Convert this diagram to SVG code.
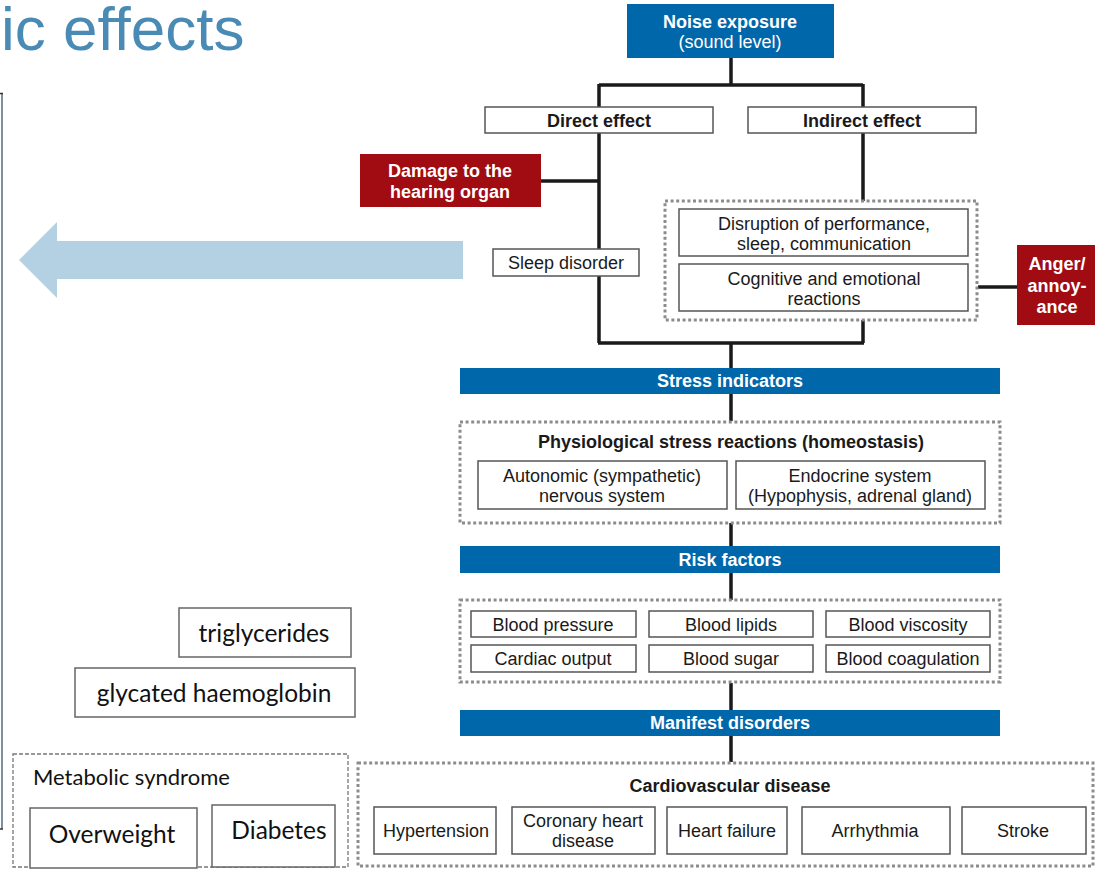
<svg xmlns="http://www.w3.org/2000/svg" width="1095" height="869" viewBox="0 0 1095 869">
<style>
.t{font-family:"Liberation Sans",Arial,sans-serif;font-size:18px;fill:#1a1a1a;text-anchor:middle}
.b{font-weight:bold}
.w{fill:#fff}
.c{font-family:Lato,"Open Sans","Liberation Sans",sans-serif;font-size:24.5px;fill:#111}
.box{fill:#fff;stroke:#555;stroke-width:1.5}
.cbox{fill:#fff;stroke:#666;stroke-width:1.5}
.blue{fill:#0067ab}
.red{fill:#a10c13}
.dot{fill:none;stroke:#8c8c8c;stroke-width:3;stroke-dasharray:3 2.6}
.ln{fill:none;stroke:#1a1a1a;stroke-width:3.5}
</style>
<rect width="1095" height="869" fill="#fff"/>
<text x="1" y="50" font-family="Liberation Sans, Arial, sans-serif" font-size="62" fill="#4a8bb5">ic effects</text>
<g id="left-frame">
<line x1="2" y1="93" x2="2" y2="829" stroke="#7d90a0" stroke-width="2"/>
<line x1="0" y1="93.5" x2="3" y2="93.5" stroke="#333" stroke-width="1.5"/>
<line x1="0" y1="829" x2="3" y2="829" stroke="#333" stroke-width="1.5"/>
</g>
<g id="big-arrow"><polygon points="19,260 57,222 57,241 463,241 463,279 57,279 57,298" fill="#b3d1e2"/></g>

<g id="connectors">
<path class="ln" d="M731 58V85M599 85H863M599 84V107M863 84V107"/>
<path class="ln" d="M599 133V249M599 276V343M541 181H599"/>
<path class="ln" d="M863 133V201M863 320V343M598 343H864M731 343V368"/>
<path class="ln" d="M978 287H1017"/>
<path class="ln" d="M731 394V421M731 523V546M731 573V600M731 683V710M731 736V762"/>
</g>

<g id="noise"><rect class="blue" x="627" y="4" width="207" height="54"/>
<text class="t b w" x="730" y="28">Noise exposure</text><text class="t w" x="730" y="48">(sound level)</text></g>
<g id="direct"><rect class="box" x="485" y="107" width="228" height="26"/><text class="t b" x="599" y="127">Direct effect</text></g>
<g id="indirect"><rect class="box" x="748" y="107" width="228" height="26"/><text class="t b" x="862" y="127">Indirect effect</text></g>
<g id="damage"><rect class="red" x="360" y="154" width="181" height="53"/>
<text class="t b w" x="450" y="177">Damage to the</text><text class="t b w" x="450" y="198">hearing organ</text></g>
<g id="sleep"><rect class="box" x="493" y="249" width="146" height="27"/><text class="t" x="566" y="269">Sleep disorder</text></g>
<g id="indirect-group"><rect class="dot" x="665" y="201" width="312" height="119"/>
<rect class="box" x="679" y="209" width="289" height="47"/>
<text class="t" x="824" y="230">Disruption of performance,</text><text class="t" x="824" y="250">sleep, communication</text>
<rect class="box" x="679" y="264" width="289" height="47"/>
<text class="t" x="824" y="285">Cognitive and emotional</text><text class="t" x="824" y="305">reactions</text></g>
<g id="anger"><rect class="red" x="1017" y="245" width="78" height="80"/>
<text class="t b w" x="1057" y="270">Anger/</text><text class="t b w" x="1057" y="292">annoy-</text><text class="t b w" x="1057" y="313">ance</text></g>

<g id="stress"><rect class="blue" x="460" y="368" width="540" height="26"/><text class="t b w" x="730" y="387">Stress indicators</text></g>
<g id="physio"><rect class="dot" x="460" y="422" width="540" height="101"/>
<text class="t b" x="731" y="448">Physiological stress reactions (homeostasis)</text>
<rect class="box" x="478" y="461" width="249" height="48"/>
<text class="t" x="602" y="482">Autonomic (sympathetic)</text><text class="t" x="602" y="502">nervous system</text>
<rect class="box" x="736" y="461" width="249" height="48"/>
<text class="t" x="860" y="482">Endocrine system</text><text class="t" x="860" y="502">(Hypophysis, adrenal gland)</text></g>
<g id="risk"><rect class="blue" x="460" y="546" width="540" height="27"/><text class="t b w" x="730" y="566">Risk factors</text></g>
<g id="risk-group"><rect class="dot" x="460" y="600" width="540" height="82"/>
<rect class="box" x="471" y="611" width="165" height="26"/><text class="t" x="553" y="631">Blood pressure</text>
<rect class="box" x="649" y="611" width="164" height="26"/><text class="t" x="731" y="631">Blood lipids</text>
<rect class="box" x="826" y="611" width="164" height="26"/><text class="t" x="908" y="631">Blood viscosity</text>
<rect class="box" x="471" y="645" width="165" height="27"/><text class="t" x="553" y="665">Cardiac output</text>
<rect class="box" x="649" y="645" width="164" height="27"/><text class="t" x="731" y="665">Blood sugar</text>
<rect class="box" x="826" y="645" width="164" height="27"/><text class="t" x="908" y="665">Blood coagulation</text></g>
<g id="manifest"><rect class="blue" x="460" y="710" width="540" height="26"/><text class="t b w" x="730" y="729">Manifest disorders</text></g>
<g id="cardio"><rect class="dot" x="358" y="763" width="735" height="103"/>
<text class="t b" x="730" y="792">Cardiovascular disease</text>
<rect class="box" x="374" y="807" width="122" height="47"/><text class="t" x="436" y="837">Hypertension</text>
<rect class="box" x="512" y="807" width="143" height="47"/><text class="t" x="583" y="827">Coronary heart</text><text class="t" x="583" y="847">disease</text>
<rect class="box" x="667" y="807" width="120" height="47"/><text class="t" x="727" y="837">Heart failure</text>
<rect class="box" x="802" y="807" width="148" height="47"/><text class="t" x="875" y="837">Arrhythmia</text>
<rect class="box" x="962" y="807" width="124" height="47"/><text class="t" x="1023" y="837">Stroke</text></g>

<g id="triglycerides"><rect class="cbox" x="179" y="608" width="172" height="49"/><text class="c" x="264" y="642" text-anchor="middle">triglycerides</text></g>
<g id="haemoglobin"><rect class="cbox" x="75" y="668" width="280" height="49"/><text class="c" x="214" y="702" text-anchor="middle">glycated haemoglobin</text></g>
<g id="metabolic"><rect x="13" y="754" width="335" height="113" fill="none" stroke="#777" stroke-width="1.3" stroke-dasharray="4 2"/>
<text class="c" x="33" y="785" style="font-size:22px">Metabolic syndrome</text>
<rect class="cbox" x="30" y="808" width="167" height="60"/><text class="c" x="112" y="843" text-anchor="middle">Overweight</text>
<rect class="cbox" x="212" y="805" width="123" height="62"/><text class="c" x="279" y="839" text-anchor="middle">Diabetes</text></g>
</svg>
